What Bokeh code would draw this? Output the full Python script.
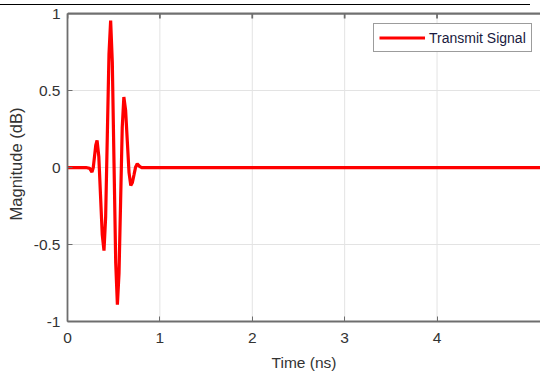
from bokeh.plotting import figure
from bokeh.models import Range1d, FixedTicker, Legend, LegendItem, Div
from bokeh.layouts import column
from bokeh.embed import file_html
from bokeh.resources import INLINE

# Time (ns) and magnitude
time_ns = [0.0, 0.20, 0.24, 0.265, 0.279, 0.2925, 0.306, 0.32, 0.339, 0.3575, 0.376,
           0.395, 0.413, 0.431, 0.449, 0.467, 0.485, 0.5035, 0.522, 0.54, 0.5575,
           0.575, 0.5925, 0.61, 0.629, 0.6475, 0.666, 0.685, 0.7025, 0.72, 0.7375,
           0.755, 0.78, 0.80, 5.2]
magnitude = [0.0, 0.0, -0.005, -0.03, 0.0, 0.073, 0.146, 0.176, 0.071, -0.182, -0.435,
             -0.54, -0.32, 0.2075, 0.736, 0.955, 0.685, 0.03, -0.62, -0.89, -0.69,
             -0.216, 0.26, 0.458, 0.373, 0.17, -0.033, -0.117, -0.097, -0.047, 0.004,
             0.024, 0.008, 0.0, 0.0]

x_ticks = [0, 1, 2, 3, 4]
x_tick_labels = ["0", "1", "2", "3", "4"]
y_ticks = [-1, -0.5, 0, 0.5, 1]
y_tick_labels = ["-1", "-0.5", "0", "0.5", "1"]
series_name = "Transmit Signal"

X_START, X_END = 0, 5.12
Y_BOT, Y_TOP = y_ticks[0], y_ticks[-1]
FONT = "Liberation Sans"
TXT = "#333333"
AX = "#6e6e6e"
GRID = "#e3e3e3"
TICK_LEN = 0.032  # inward top tick length, in y units (style)

header = Div(text="", width=530, height=4, margin=0,
             styles={"border-bottom": "1.2px solid black", "box-sizing": "content-box"})

p = figure(width=540, height=371, output_backend="svg", toolbar_location=None,
           x_range=Range1d(X_START, X_END), y_range=Range1d(Y_BOT, 1.046),
           min_border_left=67, min_border_right=0, min_border_top=1,
           min_border_bottom=55, x_axis_label="Time (ns)", y_axis_label="Magnitude (dB)")
p.margin = 0
p.outline_line_color = None
p.background_fill_color = "white"
p.border_fill_color = "white"

# grid: vertical lines only between the box edges
p.xgrid.visible = False
p.segment(x0=x_ticks, x1=x_ticks, y0=[Y_BOT] * len(x_ticks), y1=[Y_TOP] * len(x_ticks),
          line_color=GRID, line_width=1)
p.ygrid.ticker = FixedTicker(ticks=y_ticks)
p.ygrid.grid_line_color = GRID
p.ygrid.grid_line_width = 1

# top box edge with inward ticks
p.line(x=[X_START, X_END], y=[Y_TOP, Y_TOP], line_color="#707070", line_width=2.4)
p.segment(x0=x_ticks, x1=x_ticks, y0=[Y_TOP] * len(x_ticks),
          y1=[Y_TOP - TICK_LEN] * len(x_ticks), line_color=AX, line_width=1.8)

r = p.line(time_ns, magnitude, line_color="#ff0000", line_width=3.2)

for ax in (p.xaxis[0], p.yaxis[0]):
    ax.axis_line_color = AX
    ax.axis_line_width = 1.8
    ax.major_tick_line_color = AX
    ax.major_tick_in = 5
    ax.major_tick_out = 0
    ax.minor_tick_line_color = None
    ax.major_label_text_font = FONT
    ax.major_label_text_font_size = "15.5px"
    ax.major_label_text_color = TXT
    ax.axis_label_text_font = FONT
    ax.axis_label_text_font_size = "15.5px"
    ax.axis_label_text_font_style = "normal"
    ax.axis_label_text_color = TXT

p.yaxis[0].axis_label_text_font_size = "16.5px"
p.yaxis[0].bounds = (Y_BOT, Y_TOP)

p.xaxis[0].ticker = FixedTicker(ticks=x_ticks)
p.xaxis[0].major_label_overrides = dict(zip(x_ticks, x_tick_labels))
p.xaxis[0].major_label_standoff = 11
p.xaxis[0].axis_label_standoff = 8
p.yaxis[0].ticker = FixedTicker(ticks=y_ticks)
p.yaxis[0].major_label_overrides = dict(zip(y_ticks, y_tick_labels))
p.yaxis[0].major_label_standoff = 7
p.yaxis[0].axis_label_standoff = 6

legend = Legend(items=[LegendItem(label=series_name, renderers=[r])],
                location=(306, 269), padding=5, margin=0, spacing=0,
                glyph_width=46, glyph_height=17, label_standoff=4,
                label_text_font=FONT, label_text_font_size="14px",
                label_text_color="#1a1a40", border_line_color="#3a3a3a",
                border_line_width=1.5, background_fill_color="white",
                background_fill_alpha=1.0)
p.add_layout(legend, "center")

layout = column(header, p, spacing=0, margin=0)

open("out.html", "w").write(file_html(layout, INLINE))
